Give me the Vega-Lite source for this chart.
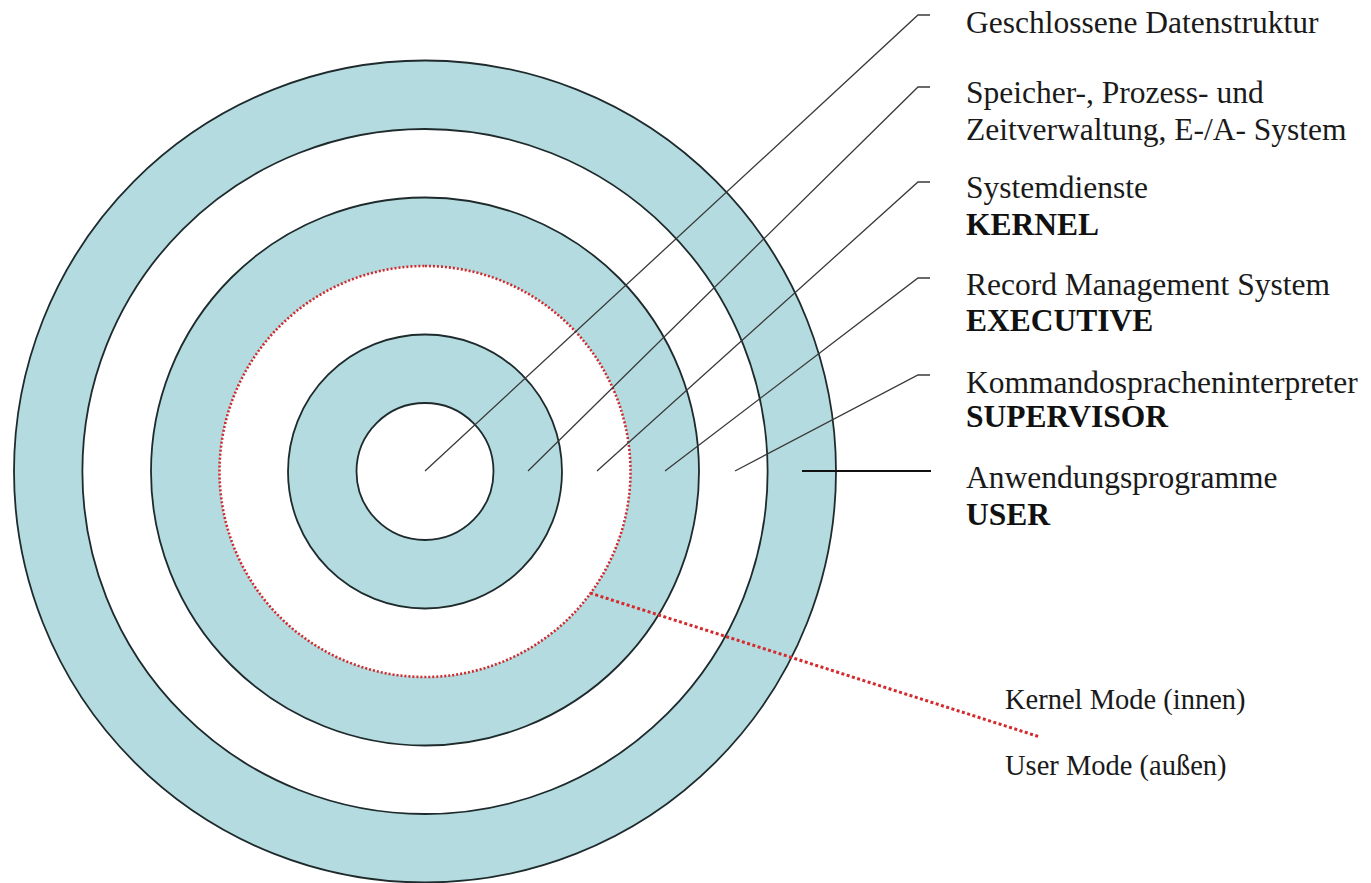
{
  "$schema": "https://vega.github.io/schema/vega-lite/v6.json",
  "width": 1371,
  "height": 883,
  "autosize": {"type": "none"},
  "padding": 0,
  "background": "white",
  "config": {"view": {"stroke": null}},
  "datasets": {
    "rings": [
      {"ring": "USER", "cx": 425, "cy": 471.5, "r": 411, "band": "blau"},
      {"ring": "SUPERVISOR", "cx": 425, "cy": 471.5, "r": 342.5, "band": "weiß"},
      {"ring": "EXECUTIVE", "cx": 425, "cy": 471.5, "r": 274, "band": "blau"},
      {"ring": "KERNEL", "cx": 425, "cy": 471.5, "r": 205.5, "band": "weiß"},
      {"ring": "Speicher", "cx": 425, "cy": 471.5, "r": 137, "band": "blau"},
      {"ring": "Daten", "cx": 425, "cy": 471.5, "r": 68.5, "band": "weiß"}
    ],
    "leaders": [
      {"id": "Daten", "seq": 1, "x": 425, "y": 471},
      {"id": "Daten", "seq": 2, "x": 918, "y": 15},
      {"id": "Daten", "seq": 3, "x": 930, "y": 15},
      {"id": "Speicher", "seq": 1, "x": 528, "y": 471},
      {"id": "Speicher", "seq": 2, "x": 918, "y": 87},
      {"id": "Speicher", "seq": 3, "x": 930, "y": 87},
      {"id": "KERNEL", "seq": 1, "x": 597, "y": 471},
      {"id": "KERNEL", "seq": 2, "x": 918, "y": 182},
      {"id": "KERNEL", "seq": 3, "x": 930, "y": 182},
      {"id": "EXECUTIVE", "seq": 1, "x": 665, "y": 471},
      {"id": "EXECUTIVE", "seq": 2, "x": 918, "y": 278},
      {"id": "EXECUTIVE", "seq": 3, "x": 930, "y": 278},
      {"id": "SUPERVISOR", "seq": 1, "x": 735, "y": 471},
      {"id": "SUPERVISOR", "seq": 2, "x": 918, "y": 375},
      {"id": "SUPERVISOR", "seq": 3, "x": 930, "y": 375}
    ],
    "userline": [
      {"id": "USER", "seq": 1, "x": 802, "y": 471},
      {"id": "USER", "seq": 2, "x": 931, "y": 471}
    ],
    "modeline": [
      {"id": "Modus", "seq": 1, "x": 590, "y": 593},
      {"id": "Modus", "seq": 2, "x": 1040, "y": 737}
    ],
    "labels": [
      {"text": "Geschlossene Datenstruktur", "x": 966, "y": 33, "kind": "Beschreibung"},
      {"text": "Speicher-, Prozess- und", "x": 966, "y": 103, "kind": "Beschreibung"},
      {"text": "Zeitverwaltung, E-/A- System", "x": 966, "y": 140, "kind": "Beschreibung"},
      {"text": "Systemdienste", "x": 966, "y": 198, "kind": "Beschreibung"},
      {"text": "KERNEL", "x": 966, "y": 235, "kind": "Name"},
      {"text": "Record Management System", "x": 966, "y": 295, "kind": "Beschreibung"},
      {"text": "EXECUTIVE", "x": 966, "y": 331, "kind": "Name"},
      {"text": "Kommandospracheninterpreter", "x": 966, "y": 393, "kind": "Beschreibung"},
      {"text": "SUPERVISOR", "x": 966, "y": 427, "kind": "Name"},
      {"text": "Anwendungsprogramme", "x": 966, "y": 488, "kind": "Beschreibung"},
      {"text": "USER", "x": 966, "y": 525, "kind": "Name"},
      {"text": "Kernel Mode (innen)", "x": 1005, "y": 709, "kind": "Modus"},
      {"text": "User Mode (außen)", "x": 1005, "y": 775, "kind": "Modus"}
    ]
  },
  "layer": [
    {
      "data": {"name": "rings"},
      "mark": {"type": "arc", "theta": 0, "theta2": 6.2832, "strokeWidth": 0},
      "encoding": {
        "x": {"field": "cx", "type": "quantitative", "scale": {"domain": [0, 1371], "range": [0, 1371], "nice": false, "zero": false}, "axis": null},
        "y": {"field": "cy", "type": "quantitative", "scale": {"domain": [0, 883], "range": [0, 883], "nice": false, "zero": false}, "axis": null},
        "radius": {"field": "r", "type": "quantitative", "stack": null, "scale": {"type": "linear", "domain": [0, 411], "range": [0, 411], "zero": true}},
        "color": {"field": "band", "type": "nominal", "scale": {"domain": ["blau", "weiß"], "range": ["#b4dce0", "#ffffff"]}, "legend": null}
      }
    },
    {
      "data": {"name": "rings"},
      "transform": [{"filter": "datum.ring != 'KERNEL'"}],
      "mark": {"type": "arc", "theta": 0, "theta2": 6.2832, "fillOpacity": 0, "stroke": "#1e2a2c", "strokeWidth": 1.8},
      "encoding": {
        "x": {"field": "cx", "type": "quantitative", "axis": null},
        "y": {"field": "cy", "type": "quantitative", "axis": null},
        "radius": {"field": "r", "type": "quantitative", "stack": null}
      }
    },
    {
      "data": {"name": "rings"},
      "transform": [{"filter": "datum.ring == 'KERNEL'"}],
      "mark": {"type": "arc", "theta": 0, "theta2": 6.2832, "fillOpacity": 0, "stroke": "#cf2a2e", "strokeWidth": 2.6, "strokeDash": [2, 2]},
      "encoding": {
        "x": {"field": "cx", "type": "quantitative", "axis": null},
        "y": {"field": "cy", "type": "quantitative", "axis": null},
        "radius": {"field": "r", "type": "quantitative", "stack": null}
      }
    },
    {
      "data": {"name": "leaders"},
      "mark": {"type": "line", "stroke": "#3a3a3a", "strokeWidth": 1.3},
      "encoding": {
        "x": {"field": "x", "type": "quantitative", "axis": null},
        "y": {"field": "y", "type": "quantitative", "axis": null},
        "detail": {"field": "id", "type": "nominal"},
        "order": {"field": "seq", "type": "quantitative"}
      }
    },
    {
      "data": {"name": "userline"},
      "mark": {"type": "line", "stroke": "#111111", "strokeWidth": 2},
      "encoding": {
        "x": {"field": "x", "type": "quantitative", "axis": null},
        "y": {"field": "y", "type": "quantitative", "axis": null},
        "order": {"field": "seq", "type": "quantitative"}
      }
    },
    {
      "data": {"name": "modeline"},
      "mark": {"type": "line", "stroke": "#d42a2e", "strokeWidth": 3, "strokeDash": [3, 2.5]},
      "encoding": {
        "x": {"field": "x", "type": "quantitative", "axis": null},
        "y": {"field": "y", "type": "quantitative", "axis": null},
        "order": {"field": "seq", "type": "quantitative"}
      }
    },
    {
      "data": {"name": "labels"},
      "transform": [{"filter": "datum.kind == 'Beschreibung'"}],
      "mark": {"type": "text", "align": "left", "baseline": "alphabetic", "font": "Liberation Serif", "fontSize": 31.5, "color": "#1a1a1a"},
      "encoding": {
        "x": {"field": "x", "type": "quantitative", "axis": null},
        "y": {"field": "y", "type": "quantitative", "axis": null},
        "text": {"field": "text", "type": "nominal"}
      }
    },
    {
      "data": {"name": "labels"},
      "transform": [{"filter": "datum.kind == 'Name'"}],
      "mark": {"type": "text", "align": "left", "baseline": "alphabetic", "font": "Liberation Serif", "fontSize": 31.5, "fontWeight": "bold", "color": "#111111"},
      "encoding": {
        "x": {"field": "x", "type": "quantitative", "axis": null},
        "y": {"field": "y", "type": "quantitative", "axis": null},
        "text": {"field": "text", "type": "nominal"}
      }
    },
    {
      "data": {"name": "labels"},
      "transform": [{"filter": "datum.kind == 'Modus'"}],
      "mark": {"type": "text", "align": "left", "baseline": "alphabetic", "font": "Liberation Serif", "fontSize": 28.5, "color": "#1a1a1a"},
      "encoding": {
        "x": {"field": "x", "type": "quantitative", "axis": null},
        "y": {"field": "y", "type": "quantitative", "axis": null},
        "text": {"field": "text", "type": "nominal"}
      }
    }
  ]
}
